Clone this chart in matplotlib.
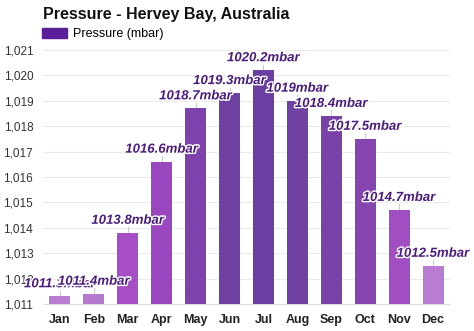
import matplotlib.pyplot as plt
import matplotlib.patheffects as pe
from matplotlib.patches import Patch

plt.rcParams['font.family'] = ['Liberation Sans', 'DejaVu Sans']

months = ['Jan', 'Feb', 'Mar', 'Apr', 'May', 'Jun', 'Jul', 'Aug', 'Sep', 'Oct', 'Nov', 'Dec']
pressure = [1011.3, 1011.4, 1013.8, 1016.6, 1018.7, 1019.3, 1020.2, 1019.0, 1018.4, 1017.5, 1014.7, 1012.5]
labels = ['1011.3mbar', '1011.4mbar', '1013.8mbar', '1016.6mbar', '1018.7mbar', '1019.3mbar',
          '1020.2mbar', '1019mbar', '1018.4mbar', '1017.5mbar', '1014.7mbar', '1012.5mbar']
colors = ['#b87cd2', '#b57ad0', '#a64ec6', '#9a46bf', '#7f41ab', '#6d40a2', '#6b3ea1',
          '#6e41a3', '#7a42a9', '#8644b1', '#a24ec3', '#b97cd3']

fig = plt.figure(figsize=(4.74, 3.31), dpi=100)
ax = fig.add_axes([43 / 474, 1 - 304 / 331, 407 / 474, 254 / 331])

x = range(len(months))
ax.bar(x, [p - 1011 for p in pressure], bottom=1011, width=0.62, color=colors, zorder=3)

for i, (p, lab) in enumerate(zip(pressure, labels)):
    ax.plot([i, i], [p, p + 0.22], color='#cccccc', lw=0.8, zorder=2)
    ax.text(i, p + 0.24, lab, ha='center', va='bottom', fontsize=9.5, fontweight='bold',
            fontstyle='italic', color='#4b1c7d', zorder=4,
            path_effects=[pe.withStroke(linewidth=2, foreground='white')])

ax.set_xlim(-0.5, 11.5)
ax.set_ylim(1011, 1021)
ax.set_yticks(range(1011, 1022))
ax.set_yticklabels(['{:,}'.format(v) for v in range(1011, 1022)], fontsize=8.5, color='#333333')
ax.set_xticks(list(x))
ax.set_xticklabels(months, fontsize=9, fontweight='bold', color='#222222')
ax.tick_params(axis='both', length=0)
ax.tick_params(axis='y', pad=7)
ax.tick_params(axis='x', pad=7)
ax.grid(axis='y', color='#ebebeb', lw=0.8, zorder=0)
for s in ['top', 'right', 'left']:
    ax.spines[s].set_visible(False)
ax.spines['bottom'].set_color('#dddddd')

fig.text(43 / 474, 1 - 15 / 331, 'Pressure - Hervey Bay, Australia', fontsize=11.5,
         fontweight='bold', va='center', ha='left', color='#111111')
fig.legend(handles=[Patch(color='#5a1e9a', label='Pressure (mbar)')], loc='center left',
           bbox_to_anchor=(42 / 474, 1 - 34 / 331), frameon=False, fontsize=9,
           handlelength=2.0, handleheight=0.9, handletextpad=0.5, borderaxespad=0,
           borderpad=0)

fig.savefig('out.png', dpi=100)
